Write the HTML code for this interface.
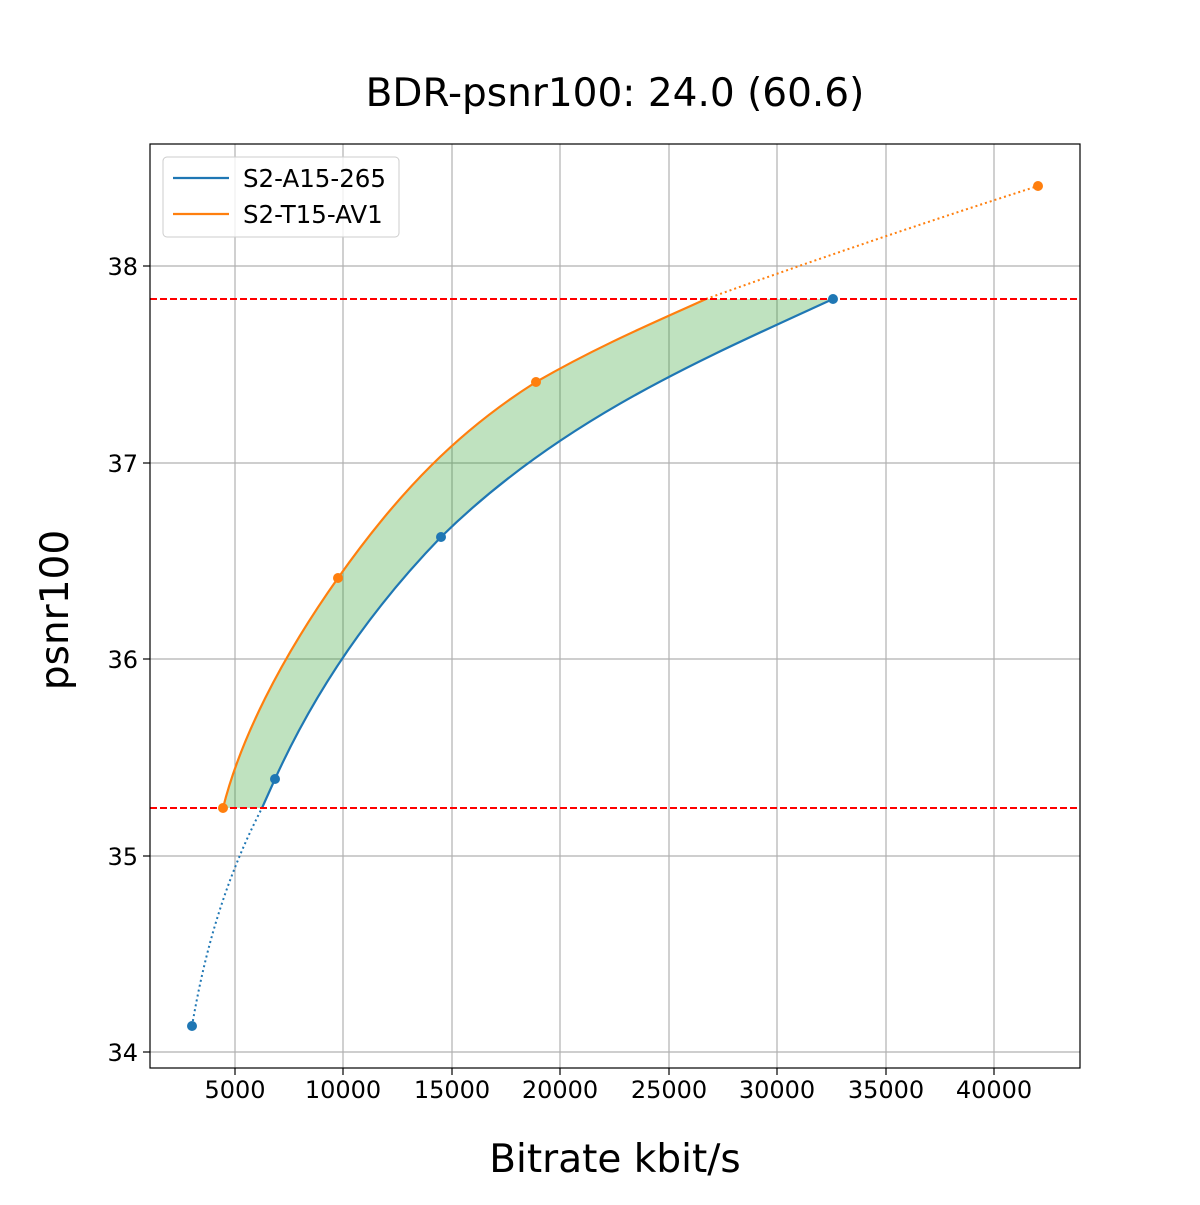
<!DOCTYPE html>
<html><head><meta charset="utf-8"><style>
body{margin:0;background:#fff}
text{font-family:"DejaVu Sans",sans-serif;fill:#000}
</style></head><body>
<svg width="1200" height="1200" xmlns="http://www.w3.org/2000/svg">
<rect width="1200" height="1200" fill="#fff"/>
<text x="615" y="106" font-size="39" text-anchor="middle">BDR-psnr100: 24.0 (60.6)</text>
<g stroke="#b0b0b0" stroke-width="1.2">
<line x1="235" y1="144" x2="235" y2="1068"/><line x1="343" y1="144" x2="343" y2="1068"/>
<line x1="452" y1="144" x2="452" y2="1068"/><line x1="560" y1="144" x2="560" y2="1068"/>
<line x1="669" y1="144" x2="669" y2="1068"/><line x1="777" y1="144" x2="777" y2="1068"/>
<line x1="886" y1="144" x2="886" y2="1068"/><line x1="994" y1="144" x2="994" y2="1068"/>
<line x1="150" y1="1052" x2="1080" y2="1052"/><line x1="150" y1="856" x2="1080" y2="856"/>
<line x1="150" y1="659" x2="1080" y2="659"/><line x1="150" y1="463" x2="1080" y2="463"/>
<line x1="150" y1="266" x2="1080" y2="266"/>
</g>
<path d="M223,808 C240,740 280,660 338,578 C400,490 460,430 536,382 C600,345 660,320 706,299 L833,299 C700,360 560,420 441,537 C380,600 320,680 275,779 L262,808 Z" fill="#2ca02c" fill-opacity="0.3"/>
<path d="M192,1026 C205,950 225,880 262,808" fill="none" stroke="#1f77b4" stroke-width="2" stroke-dasharray="2,3"/>
<path d="M706,299 Q870,240 1038,186" fill="none" stroke="#ff7f0e" stroke-width="2" stroke-dasharray="2,3"/>
<path d="M262,808 L275,779 C320,680 380,600 441,537 C560,420 700,360 833,299" fill="none" stroke="#1f77b4" stroke-width="2.2"/>
<path d="M223,808 C240,740 280,660 338,578 C400,490 460,430 536,382 C600,345 660,320 706,299" fill="none" stroke="#ff7f0e" stroke-width="2.2"/>
<g stroke="#ff0000" stroke-width="2" stroke-dasharray="7,3">
<line x1="150" y1="299" x2="1080" y2="299"/><line x1="150" y1="808" x2="1080" y2="808"/>
</g>
<g fill="#1f77b4"><circle cx="192" cy="1026" r="5"/><circle cx="275" cy="779" r="5"/><circle cx="441" cy="537" r="5"/><circle cx="833" cy="299" r="5"/></g>
<g fill="#ff7f0e"><circle cx="223" cy="808" r="5"/><circle cx="338" cy="578" r="5"/><circle cx="536" cy="382" r="5"/><circle cx="1038" cy="186" r="5"/></g>
<rect x="150" y="144" width="930" height="924" fill="none" stroke="#000" stroke-width="1.2"/>
<g stroke="#000" stroke-width="1.2">
<line x1="235" y1="1068" x2="235" y2="1075"/><line x1="343" y1="1068" x2="343" y2="1075"/>
<line x1="452" y1="1068" x2="452" y2="1075"/><line x1="560" y1="1068" x2="560" y2="1075"/>
<line x1="669" y1="1068" x2="669" y2="1075"/><line x1="777" y1="1068" x2="777" y2="1075"/>
<line x1="886" y1="1068" x2="886" y2="1075"/><line x1="994" y1="1068" x2="994" y2="1075"/>
<line x1="143" y1="1052" x2="150" y2="1052"/><line x1="143" y1="856" x2="150" y2="856"/>
<line x1="143" y1="659" x2="150" y2="659"/><line x1="143" y1="463" x2="150" y2="463"/>
<line x1="143" y1="266" x2="150" y2="266"/>
</g>
<g font-size="24" text-anchor="middle">
<text x="235" y="1098">5000</text><text x="343" y="1098">10000</text><text x="452" y="1098">15000</text>
<text x="560" y="1098">20000</text><text x="669" y="1098">25000</text><text x="777" y="1098">30000</text>
<text x="886" y="1098">35000</text><text x="994" y="1098">40000</text>
</g>
<g font-size="24" text-anchor="end">
<text x="138" y="1061">34</text><text x="138" y="865">35</text><text x="138" y="668">36</text>
<text x="138" y="472">37</text><text x="138" y="275">38</text>
</g>
<text x="615" y="1172" font-size="39" text-anchor="middle">Bitrate kbit/s</text>
<text transform="translate(68,610) rotate(-90)" font-size="39" text-anchor="middle">psnr100</text>
<rect x="163" y="157" width="236" height="80" rx="4" fill="#fff" fill-opacity="0.8" stroke="#ccc" stroke-width="1"/>
<line x1="173" y1="178" x2="229" y2="178" stroke="#1f77b4" stroke-width="2.2"/>
<line x1="173" y1="214" x2="229" y2="214" stroke="#ff7f0e" stroke-width="2.2"/>
<text x="243" y="187" font-size="24.5">S2-A15-265</text>
<text x="243" y="223" font-size="24.5">S2-T15-AV1</text>
</svg>
</body></html>
